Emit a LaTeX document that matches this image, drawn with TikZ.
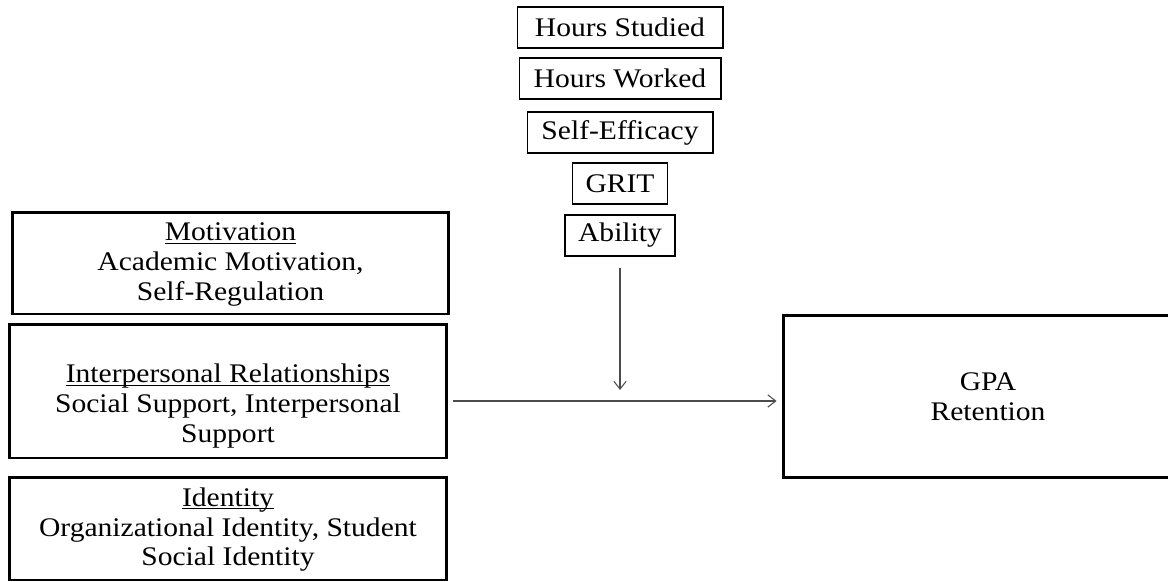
\documentclass[tikz,border=0pt]{standalone}
\usepackage{fontspec}
\setmainfont{Liberation Serif}[FakeStretch=1.1]
\usetikzlibrary{arrows.meta,positioning}
\newcommand{\heading}[1]{\underline{\smash{#1}}\strut}
\tikzset{
  boxfont/.style={font=\fontsize{15.3pt}{17pt}\selectfont},
  factor/.style={boxfont, draw=black, line width=1.7pt, align=center, inner sep=0pt},
  moderator/.style={boxfont, draw=black, line width=0.6pt, inner sep=0pt, minimum height=0.82cm},
  link/.style={draw=black!70, line width=0.6pt, -{Straight Barb[length=4.5pt,width=7pt]}}
}

\begin{document}
\begin{tikzpicture}[x=0.02cm, y=-0.02cm]
    \useasboundingbox (0,0) rectangle (1168,581);

    % moderators
    \node[moderator, minimum width=4.12cm] (studied) at (620, 27.5) {Hours Studied};
    \node[moderator, minimum width=4.04cm] (worked) at (620, 78.5) {Hours Worked};
    \node[moderator, minimum width=3.72cm] (efficacy) at (620, 132.5) {Self-Efficacy};
    \node[moderator, minimum width=1.9cm] (grit) at (620, 183.5) {GRIT};
    \node[moderator, minimum width=2.2cm] (ability) at (620, 235.5) {Ability};

    % predictors
    \node[factor, minimum width=8.74cm, minimum height=2.04cm] (motivation) at (230.5, 263)
        {\heading{Motivation}\\ Academic Motivation,\\ Self-Regulation};
    \node[factor, minimum width=8.76cm, minimum height=2.68cm] (relations) at (228, 391)
        {\rule{0pt}{27.8pt}\heading{Interpersonal Relationships}\\ Social Support, Interpersonal\\ Support};
    \node[factor, minimum width=8.76cm, minimum height=2.06cm] (identity) at (228, 528.5)
        {\heading{Identity}\\ Organizational Identity, Student\\ Social Identity};

    % outcome
    \node[factor, minimum width=8.2cm, minimum height=3.26cm] (outcome) at (988, 396.5)
        {GPA\\ Retention};

    \coordinate (join) at (620, 401);
    \draw[link, shorten <=0.22cm, shorten >=0.22cm] (ability) -- (join);
    \draw[link, shorten <=0.1cm, shorten >=0.1cm] (relations.east |- join) -- (outcome.west |- join);
\end{tikzpicture}
\end{document}
